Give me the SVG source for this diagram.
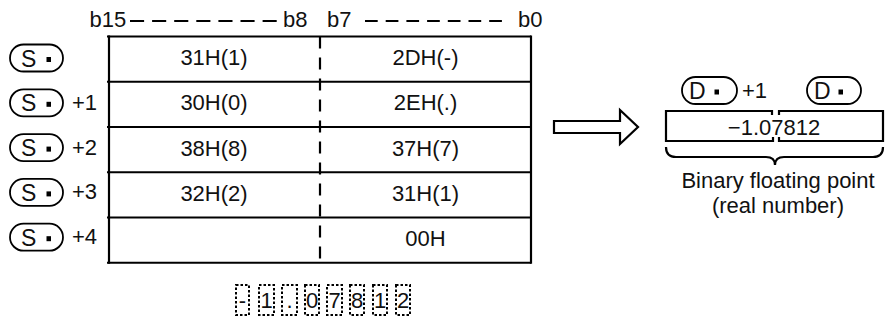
<svg xmlns="http://www.w3.org/2000/svg" width="886" height="323" viewBox="0 0 886 323">
<style>
text{font-family:"Liberation Sans",Arial,sans-serif;font-size:22px;fill:#111}
.c{text-anchor:middle}
.ln{stroke:#000;stroke-width:2.2;fill:none}
.pill{fill:#fff;stroke:#000;stroke-width:1.8}
.dot{fill:#000}
.dbox{fill:none;stroke:#000;stroke-width:2;stroke-dasharray:2.5 2}
</style>
<rect width="886" height="323" fill="#fff"/>
<g id="header">
<text x="89.5" y="27">b15</text>
<line class="ln" x1="130" y1="21" x2="277" y2="21" stroke-dasharray="14.1 8"/>
<text x="283" y="27">b8</text>
<text x="327" y="27">b7</text>
<line class="ln" x1="365" y1="21" x2="502" y2="21" stroke-dasharray="12.7 8"/>
<text x="518" y="27">b0</text>
</g>
<g id="table">
<line class="ln" x1="107" y1="36.5" x2="531" y2="36.5"/>
<line class="ln" x1="107" y1="81.75" x2="531" y2="81.75"/>
<line class="ln" x1="107" y1="127" x2="531" y2="127"/>
<line class="ln" x1="107" y1="172.25" x2="531" y2="172.25"/>
<line class="ln" x1="107" y1="217.5" x2="531" y2="217.5"/>
<line class="ln" x1="107" y1="262.75" x2="531" y2="262.75"/>
<line class="ln" x1="109" y1="35.5" x2="109" y2="263.75"/>
<line class="ln" x1="531" y1="35.5" x2="531" y2="263.75"/>
<line class="ln" x1="320" y1="36.5" x2="320" y2="262.75" stroke-dasharray="12 9"/>
<text class="c" x="214" y="65">31H(1)</text>
<text class="c" x="425.5" y="65">2DH(-)</text>
<text class="c" x="214" y="110.25">30H(0)</text>
<text class="c" x="425.5" y="110.25">2EH(.)</text>
<text class="c" x="214" y="155.5">38H(8)</text>
<text class="c" x="425.5" y="155.5">37H(7)</text>
<text class="c" x="214" y="200.75">32H(2)</text>
<text class="c" x="425.5" y="200.75">31H(1)</text>
<text class="c" x="425.5" y="246">00H</text>
</g>
<g id="s0">
<rect class="pill" x="10" y="44.5" width="53" height="27" rx="13.5"/>
<text x="21" y="66.5" style="font-size:23px">S</text><rect class="dot" x="46.5" y="57" width="4.5" height="5"/>
</g>
<g id="s1">
<rect class="pill" x="10" y="89.3" width="53" height="27" rx="13.5"/>
<text x="21" y="111.3" style="font-size:23px">S</text><rect class="dot" x="46.5" y="101.8" width="4.5" height="5"/>
<text x="72" y="109.8">+1</text>
</g>
<g id="s2">
<rect class="pill" x="10" y="134.1" width="53" height="27" rx="13.5"/>
<text x="21" y="156.1" style="font-size:23px">S</text><rect class="dot" x="46.5" y="146.6" width="4.5" height="5"/>
<text x="72" y="154.6">+2</text>
</g>
<g id="s3">
<rect class="pill" x="10" y="178.9" width="53" height="27" rx="13.5"/>
<text x="21" y="200.9" style="font-size:23px">S</text><rect class="dot" x="46.5" y="191.4" width="4.5" height="5"/>
<text x="72" y="199.4">+3</text>
</g>
<g id="s4">
<rect class="pill" x="10" y="223.7" width="53" height="27" rx="13.5"/>
<text x="21" y="245.7" style="font-size:23px">S</text><rect class="dot" x="46.5" y="236.2" width="4.5" height="5"/>
<text x="72" y="244.2">+4</text>
</g>
<g id="connectors">
<polygon class="ln" points="554,121 620,121 620,110 638,127 620,144 620,133 554,133" fill="#fff"/>
</g>
<g id="result">
<rect class="pill" x="682" y="77" width="55" height="27" rx="13.5"/>
<text x="689" y="99" style="font-size:23px">D</text><rect class="dot" x="714.5" y="89.5" width="4.5" height="5"/>
<text x="742" y="97.5">+1</text>
<rect class="pill" x="807" y="77" width="54" height="27" rx="13.5"/>
<text x="814" y="99" style="font-size:23px">D</text><rect class="dot" x="838.5" y="89.5" width="4.5" height="5"/>
<path class="ln" d="M772 115V111H666V141H773V137"/>
<path class="ln" d="M779 115V111H883V141H779V137"/>
<text class="c" x="774" y="135">−1.07812</text>
<path class="ln" d="M666 147Q666 157 676 157H766Q775 157 775 165Q775 157 784 157H873Q883 157 883 147"/>
<text class="c" x="778" y="187.5">Binary floating point</text>
<text class="c" x="778" y="212.5">(real number)</text>
</g>
<g id="digits">
<rect class="dbox" x="236" y="285" width="13" height="30"/><text class="c" x="242.5" y="308">-</text>
<rect class="dbox" x="259" y="285" width="15" height="30"/><text class="c" x="266.5" y="308">1</text>
<rect class="dbox" x="282" y="285" width="15" height="30"/><text class="c" x="289.5" y="308">.</text>
<rect class="dbox" x="305" y="285" width="14" height="30"/><text class="c" x="312" y="308">0</text>
<rect class="dbox" x="327" y="285" width="15" height="30"/><text class="c" x="334.5" y="308">7</text>
<rect class="dbox" x="350" y="285" width="14" height="30"/><text class="c" x="357" y="308">8</text>
<rect class="dbox" x="373" y="285" width="14" height="30"/><text class="c" x="380" y="308">1</text>
<rect class="dbox" x="396" y="285" width="14" height="30"/><text class="c" x="403" y="308">2</text>
</g>
</svg>
